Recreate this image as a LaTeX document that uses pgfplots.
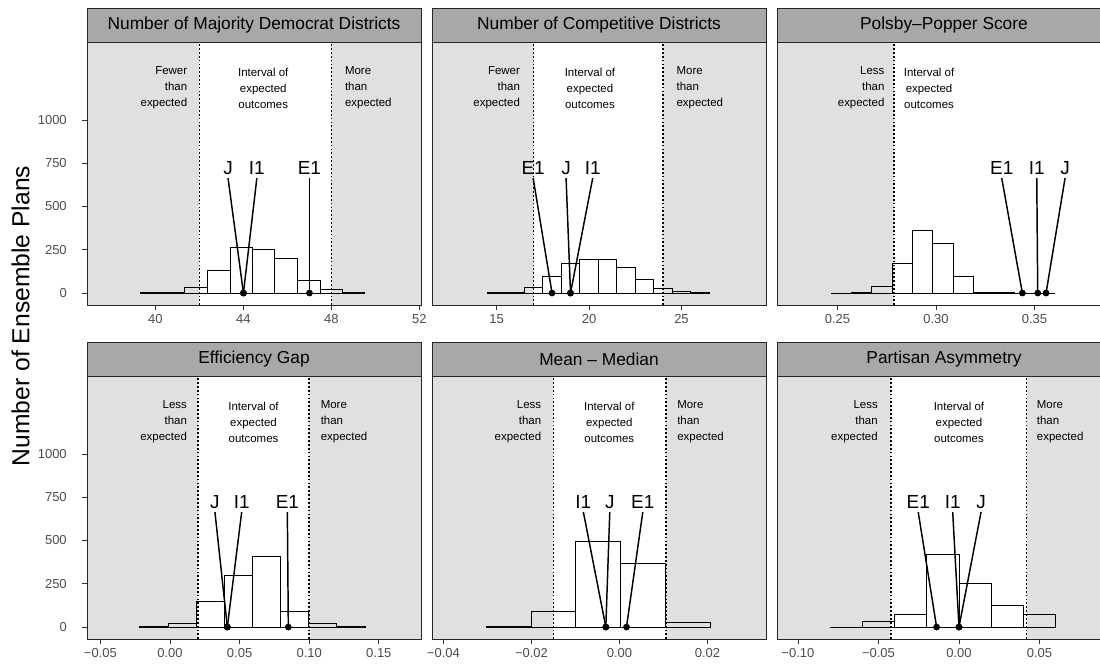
\documentclass[border=0pt]{standalone}
\usepackage{fontspec}
\setmainfont{Liberation Sans}
\usepackage{pgfplots}
\pgfplotsset{compat=1.18}
\definecolor{bgray}{gray}{0.88}
\definecolor{stripgray}{gray}{0.66}
\newcommand\stripfont{\fontsize{13}{15}\selectfont}
\newcommand\annfont{\fontsize{8.6}{12}\selectfont}
\newcommand\labfont{\fontsize{14.2}{16}\selectfont}
\pgfplotsset{
  panel/.style={
    scale only axis, width=250.5pt, height=197.25pt,
    anchor=south west,
    ymin=-69, ymax=1450,
    scaled ticks=false,
    axis on top, clip=false,
    axis line style={draw=black!85, line width=0.7pt},
    tick align=outside, tick pos=left,
    major tick length=4pt,
    every tick/.style={black!80, line width=0.6pt},
    ticklabel style={font=\fontsize{9.75}{11}\selectfont, text=black!70},
    xticklabel style={inner sep=0pt, yshift=-3pt},
    yticklabel style={inner sep=0pt, xshift=-11pt},
    ytick=\empty,
  },
  lefty/.style={ytick={0,250,500,750,1000}, yticklabels={0,250,500,750,1000}},
  hist/.style={ybar interval, draw=black, fill=none, line width=0.7pt, forget plot},
  bg/.style={draw=none, fill=bgray, forget plot},
  bound/.style={draw=black, line width=1.3pt, dash pattern=on 1.3pt off 1.6pt, forget plot},
  seg/.style={draw=black, line width=1.1pt, forget plot},
  pts/.style={only marks, mark=*, mark size=2.3pt, black, forget plot},
}
\begin{document}
\begin{tikzpicture}
\useasboundingbox (0,0) rectangle (825pt,500.25pt);

% ---------- Panel 1: Number of Majority Democrat Districts
\begin{axis}[panel, lefty, at={(65.25pt,271.5pt)},
  xmin=36.89, xmax=52.07, xtick={40,44,48,52}, xticklabels={40,44,48,52}]
\addplot[bg] coordinates {(36.89,-69) (42,-69) (42,1450) (36.89,1450)} -- cycle;
\addplot[bg] coordinates {(48,-69) (52.07,-69) (52.07,1450) (48,1450)} -- cycle;
\addplot[hist] coordinates {(39.30,1) (40.32,5) (41.34,35) (42.36,130) (43.39,265) (44.41,250) (45.43,200) (46.45,70) (47.48,20) (48.50,3) (49.52,0)};
\addplot[bound] coordinates {(42,-69) (42,1450)};
\addplot[bound] coordinates {(48,-69) (48,1450)};
\addplot[seg] coordinates {(43.30,664) (44,0)};
\addplot[seg] coordinates {(44.61,664) (44,0)};
\addplot[seg] coordinates {(47.0,664) (47,0)};
\addplot[pts] coordinates {(44,0) (44,0) (47,0)};
\node[anchor=base, inner sep=0pt, font=\labfont] at (axis cs:43.30,682) {J};
\node[anchor=base, inner sep=0pt, font=\labfont] at (axis cs:44.61,682) {I1};
\node[anchor=base, inner sep=0pt, font=\labfont] at (axis cs:47.0,682) {E1};
\node[anchor=east, align=right, inner sep=0pt, font=\annfont, xshift=-9pt] at (axis cs:42,1184) {Fewer\\than\\expected};
\node[align=center, inner sep=0pt, font=\annfont] at (axis cs:44.9,1184) {Interval of\\expected\\outcomes};
\node[anchor=west, align=left, inner sep=0pt, font=\annfont, xshift=10pt] at (axis cs:48,1184) {More\\than\\expected};
\end{axis}

% ---------- Panel 2: Number of Competitive Districts
\begin{axis}[panel, at={(324pt,271.5pt)},
  xmin=11.51, xmax=29.57, xtick={15,20,25}, xticklabels={15,20,25}]
\addplot[bg] coordinates {(11.51,-69) (17,-69) (17,1450) (11.51,1450)} -- cycle;
\addplot[bg] coordinates {(24,-69) (29.57,-69) (29.57,1450) (24,1450)} -- cycle;
\addplot[hist] coordinates {(14.5,1) (15.5,5) (16.5,30) (17.5,95) (18.5,170) (19.5,195) (20.5,195) (21.5,150) (22.5,80) (23.5,25) (24.5,8) (25.5,3) (26.5,0)};
\addplot[bound] coordinates {(17,-69) (17,1450)};
\addplot[bound] coordinates {(24,-69) (24,1450)};
\addplot[seg] coordinates {(16.98,664) (18,0)};
\addplot[seg] coordinates {(18.76,664) (19,0)};
\addplot[seg] coordinates {(20.2,664) (19,0)};
\addplot[pts] coordinates {(18,0) (19,0) (19,0)};
\node[anchor=base, inner sep=0pt, font=\labfont] at (axis cs:16.98,682) {E1};
\node[anchor=base, inner sep=0pt, font=\labfont] at (axis cs:18.76,682) {J};
\node[anchor=base, inner sep=0pt, font=\labfont] at (axis cs:20.2,682) {I1};
\node[anchor=east, align=right, inner sep=0pt, font=\annfont, xshift=-10pt] at (axis cs:17,1184) {Fewer\\than\\expected};
\node[align=center, inner sep=0pt, font=\annfont] at (axis cs:20.05,1184) {Interval of\\expected\\outcomes};
\node[anchor=west, align=left, inner sep=0pt, font=\annfont, xshift=10pt] at (axis cs:24,1184) {More\\than\\expected};
\end{axis}

% ---------- Panel 3: Polsby-Popper Score
\begin{axis}[panel, at={(582.75pt,271.5pt)},
  xmin=0.2193, xmax=0.3888, xtick={0.25,0.30,0.35}, xticklabels={0.25,0.30,0.35}]
\addplot[bg] coordinates {(0.2193,-69) (0.27868,-69) (0.27868,1450) (0.2193,1450)} -- cycle;
\addplot[hist] coordinates {(0.24670,0) (0.25706,1) (0.26736,40) (0.27772,170) (0.28807,360) (0.29838,285) (0.30873,95) (0.31904,3) (0.32939,1) (0.33975,0) (0.35005,0) (0.36041,0)};
\addplot[bound] coordinates {(0.27868,-69) (0.27868,1450)};
\addplot[seg] coordinates {(0.33335,664) (0.34381,0)};
\addplot[seg] coordinates {(0.35112,664) (0.35162,0)};
\addplot[seg] coordinates {(0.36548,664) (0.35584,0)};
\addplot[pts] coordinates {(0.34381,0) (0.35162,0) (0.35584,0)};
\node[anchor=base, inner sep=0pt, font=\labfont] at (axis cs:0.33335,682) {E1};
\node[anchor=base, inner sep=0pt, font=\labfont] at (axis cs:0.35112,682) {I1};
\node[anchor=base, inner sep=0pt, font=\labfont] at (axis cs:0.36548,682) {J};
\node[anchor=east, align=right, inner sep=0pt, font=\annfont, xshift=-7pt] at (axis cs:0.27868,1184) {Less\\than\\expected};
\node[align=center, inner sep=0pt, font=\annfont] at (axis cs:0.29645,1184) {Interval of\\expected\\outcomes};
\end{axis}

% ---------- Panel 4: Efficiency Gap
\begin{axis}[panel, lefty, at={(65.25pt,21pt)},
  xmin=-0.0596, xmax=0.1803, xtick={-0.05,0,0.05,0.10,0.15}, xticklabels={−0.05,0.00,0.05,0.10,0.15}]
\addplot[bg] coordinates {(-0.0596,-69) (0.02,-69) (0.02,1450) (-0.0596,1450)} -- cycle;
\addplot[bg] coordinates {(0.10,-69) (0.1803,-69) (0.1803,1450) (0.10,1450)} -- cycle;
\addplot[hist] coordinates {(-0.0216,2) (-0.0014,18) (0.0188,145) (0.0390,300) (0.0593,410) (0.0795,92) (0.0997,20) (0.1199,2) (0.1401,0)};
\addplot[bound] coordinates {(0.02,-69) (0.02,1450)};
\addplot[bound] coordinates {(0.10,-69) (0.10,1450)};
\addplot[seg] coordinates {(0.0323,664) (0.0412,0)};
\addplot[seg] coordinates {(0.0515,664) (0.0412,0)};
\addplot[seg] coordinates {(0.0843,664) (0.085,0)};
\addplot[pts] coordinates {(0.0412,0) (0.0412,0) (0.085,0)};
\node[anchor=base, inner sep=0pt, font=\labfont] at (axis cs:0.0323,682) {J};
\node[anchor=base, inner sep=0pt, font=\labfont] at (axis cs:0.0515,682) {I1};
\node[anchor=base, inner sep=0pt, font=\labfont] at (axis cs:0.0843,682) {E1};
\node[anchor=east, align=right, inner sep=0pt, font=\annfont, xshift=-8pt] at (axis cs:0.02,1184) {Less\\than\\expected};
\node[align=center, inner sep=0pt, font=\annfont] at (axis cs:0.06,1184) {Interval of\\expected\\outcomes};
\node[anchor=west, align=left, inner sep=0pt, font=\annfont, xshift=8.5pt] at (axis cs:0.10,1184) {More\\than\\expected};
\end{axis}

% ---------- Panel 5: Mean - Median
\begin{axis}[panel, at={(324pt,21pt)},
  xmin=-0.0426, xmax=0.0333, xtick={-0.04,-0.02,0,0.02}, xticklabels={−0.04,−0.02,0.00,0.02}]
\addplot[bg] coordinates {(-0.0426,-69) (-0.015,-69) (-0.015,1450) (-0.0426,1450)} -- cycle;
\addplot[bg] coordinates {(0.0105,-69) (0.0333,-69) (0.0333,1450) (0.0105,1450)} -- cycle;
\addplot[hist] coordinates {(-0.0302,1) (-0.0200,90) (-0.0099,495) (0.0003,370) (0.0104,25) (0.0206,0)};
\addplot[bound] coordinates {(-0.015,-69) (-0.015,1450)};
\addplot[bound] coordinates {(0.0105,-69) (0.0105,1450)};
\addplot[seg] coordinates {(-0.0082,664) (-0.0031,0)};
\addplot[seg] coordinates {(-0.0022,664) (-0.0031,0)};
\addplot[seg] coordinates {(0.0053,664) (0.0016,0)};
\addplot[pts] coordinates {(-0.0031,0) (-0.0031,0) (0.0016,0)};
\node[anchor=base, inner sep=0pt, font=\labfont] at (axis cs:-0.0082,682) {I1};
\node[anchor=base, inner sep=0pt, font=\labfont] at (axis cs:-0.0022,682) {J};
\node[anchor=base, inner sep=0pt, font=\labfont] at (axis cs:0.0053,682) {E1};
\node[anchor=east, align=right, inner sep=0pt, font=\annfont, xshift=-9pt] at (axis cs:-0.015,1184) {Less\\than\\expected};
\node[align=center, inner sep=0pt, font=\annfont] at (axis cs:-0.0023,1184) {Interval of\\expected\\outcomes};
\node[anchor=west, align=left, inner sep=0pt, font=\annfont, xshift=8.5pt] at (axis cs:0.0105,1184) {More\\than\\expected};
\end{axis}

% ---------- Panel 6: Partisan Asymmetry
\begin{axis}[panel, at={(582.75pt,21pt)},
  xmin=-0.1130, xmax=0.0944, xtick={-0.10,-0.05,0,0.05}, xticklabels={−0.10,−0.05,0.00,0.05}]
\addplot[bg] coordinates {(-0.1130,-69) (-0.042,-69) (-0.042,1450) (-0.1130,1450)} -- cycle;
\addplot[bg] coordinates {(0.042,-69) (0.0944,-69) (0.0944,1450) (0.042,1450)} -- cycle;
\addplot[hist] coordinates {(-0.08,0) (-0.06,30) (-0.04,75) (-0.02,420) (0,250) (0.02,125) (0.04,72) (0.06,0)};
\addplot[bound] coordinates {(-0.042,-69) (-0.042,1450)};
\addplot[bound] coordinates {(0.042,-69) (0.042,1450)};
\addplot[seg] coordinates {(-0.0253,664) (-0.0139,0)};
\addplot[seg] coordinates {(-0.0039,664) (0,0)};
\addplot[seg] coordinates {(0.0137,664) (0,0)};
\addplot[pts] coordinates {(-0.0139,0) (0,0) (0,0)};
\node[anchor=base, inner sep=0pt, font=\labfont] at (axis cs:-0.0253,682) {E1};
\node[anchor=base, inner sep=0pt, font=\labfont] at (axis cs:-0.0039,682) {I1};
\node[anchor=base, inner sep=0pt, font=\labfont] at (axis cs:0.0137,682) {J};
\node[anchor=east, align=right, inner sep=0pt, font=\annfont, xshift=-10pt] at (axis cs:-0.042,1184) {Less\\than\\expected};
\node[align=center, inner sep=0pt, font=\annfont] at (axis cs:0,1184) {Interval of\\expected\\outcomes};
\node[anchor=west, align=left, inner sep=0pt, font=\annfont, xshift=7.5pt] at (axis cs:0.042,1184) {More\\than\\expected};
\end{axis}

% ---------- strips
\begin{scope}[every node/.style={font=\stripfont}]
\draw[fill=stripgray, draw=black!85, line width=0.7pt] (65.25pt,468.75pt) rectangle (315.75pt,494.25pt);
\node at (190.5pt,481.5pt) {Number of Majority Democrat Districts};
\draw[fill=stripgray, draw=black!85, line width=0.7pt] (324pt,468.75pt) rectangle (574.5pt,494.25pt);
\node at (449.25pt,481.5pt) {Number of Competitive Districts};
\draw[fill=stripgray, draw=black!85, line width=0.7pt] (582.75pt,468.75pt) rectangle (833.25pt,494.25pt);
\node at (708pt,481.5pt) {Polsby–Popper Score};
\draw[fill=stripgray, draw=black!85, line width=0.7pt] (65.25pt,218.25pt) rectangle (315.75pt,243.75pt);
\node at (190.5pt,231pt) {Efficiency Gap};
\draw[fill=stripgray, draw=black!85, line width=0.7pt] (324pt,218.25pt) rectangle (574.5pt,243.75pt);
\node at (449.25pt,231pt) {Mean – Median};
\draw[fill=stripgray, draw=black!85, line width=0.7pt] (582.75pt,218.25pt) rectangle (833.25pt,243.75pt);
\node at (708pt,231pt) {Partisan Asymmetry};
\end{scope}

\node[rotate=90, font=\fontsize{18.5}{20}\selectfont] at (15.5pt,263.25pt) {Number of Ensemble Plans};
\end{tikzpicture}
\end{document}
